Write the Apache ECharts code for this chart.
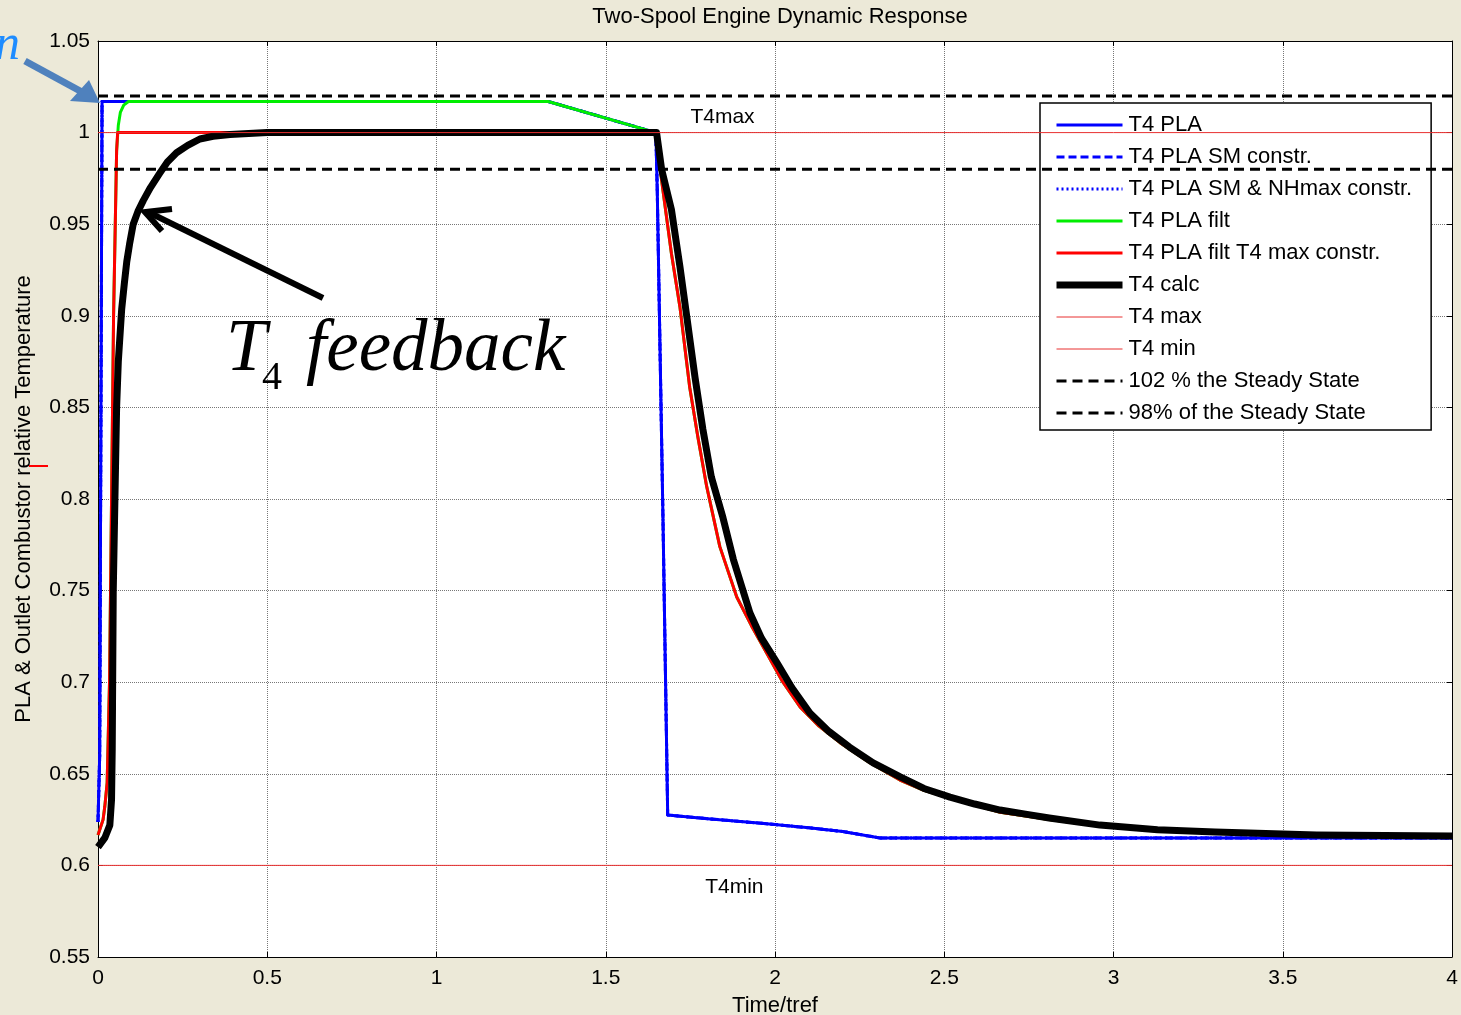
<!DOCTYPE html>
<html><head><meta charset="utf-8">
<script src="https://cdn.jsdelivr.net/npm/echarts/dist/echarts.min.js"></script>
<style>html,body{margin:0;padding:0;background:#ECE9D8;} #c{width:1461px;height:1015px;}</style>
</head><body><div id="c"></div>
<script>
// ---------- data ----------
const chartTitle = 'Two-Spool Engine Dynamic Response';
const xName = 'Time/tref';
const yName = 'PLA & Outlet Combustor relative Temperature';
const xTicks = [0, 0.5, 1, 1.5, 2, 2.5, 3, 3.5, 4];
const yTicks = [0.55, 0.6, 0.65, 0.7, 0.75, 0.8, 0.85, 0.9, 0.95, 1, 1.05];
const seriesNames = ['T4 PLA', 'T4 PLA SM constr.', 'T4 PLA SM & NHmax constr.', 'T4 PLA filt',
  'T4 PLA filt T4 max constr.', 'T4 calc', 'T4 max', 'T4 min',
  '102 % the Steady State', '98% of the Steady State'];

// T4 PLA (blue) – the constrained versions coincide with it
const blueT = [0, 0.005, 0.012, 1.33, 1.648, 1.652, 1.669, 1.683, 1.8, 1.96, 2.1, 2.2, 2.31, 4.0];
const blueV = [0.6237, 0.66, 1.017, 1.017, 1.0, 0.97, 0.79, 0.6275, 0.6255, 0.623, 0.6205, 0.6185, 0.615, 0.615];

// T4 PLA filt (green)
const greenT = [0, 0.015, 0.02, 0.027, 0.034, 0.04, 0.046, 0.052, 0.055, 0.06, 0.066, 0.076, 0.09, 1.33, 1.648,
  1.665, 1.694, 1.719, 1.748, 1.772, 1.798, 1.837, 1.887, 1.93, 1.975, 2.02, 2.074, 2.13, 2.192, 2.28, 2.369, 2.44, 2.517, 2.59, 2.665, 2.81, 2.96, 3.2, 3.5, 4.0];
const greenV = [0.6166, 0.625, 0.632, 0.645, 0.70, 0.80, 0.90, 0.96, 0.99, 1.004, 1.011, 1.015, 1.017, 1.017, 1.0,
  0.974, 0.934, 0.905, 0.861, 0.834, 0.807, 0.774, 0.7465, 0.731, 0.716, 0.701, 0.6865, 0.676, 0.667, 0.656, 0.6466, 0.641, 0.6368, 0.633, 0.629, 0.625, 0.6215, 0.619, 0.617, 0.616];

// T4 PLA filt T4 max constr. (red)
const redT = [0, 0.015, 0.02, 0.027, 0.034, 0.04, 0.046, 0.052, 0.055, 0.058, 1.648,
  1.665, 1.694, 1.719, 1.748, 1.772, 1.798, 1.837, 1.887, 1.93, 1.975, 2.02, 2.074, 2.13, 2.192, 2.28, 2.369, 2.44, 2.517, 2.59, 2.665, 2.81, 2.96, 3.2, 3.5, 4.0];
const redV = [0.6166, 0.625, 0.632, 0.645, 0.70, 0.80, 0.90, 0.96, 0.99, 1.0, 1.0,
  0.974, 0.934, 0.905, 0.861, 0.834, 0.807, 0.774, 0.7465, 0.731, 0.716, 0.701, 0.6865, 0.676, 0.667, 0.656, 0.6466, 0.641, 0.6368, 0.633, 0.629, 0.625, 0.6215, 0.619, 0.617, 0.616];

// T4 calc (black)
const calcT = [0, 0.02, 0.035, 0.040, 0.042, 0.045, 0.05, 0.055, 0.06, 0.07, 0.078, 0.085, 0.094, 0.104, 0.118, 0.134, 0.155,
  0.183, 0.205, 0.232, 0.265, 0.301, 0.34, 0.39, 0.5, 1.65,
  1.665, 1.694, 1.719, 1.739, 1.764, 1.787, 1.812, 1.846, 1.877, 1.926, 1.96, 2.006, 2.05, 2.103, 2.16, 2.22, 2.29, 2.37,
  2.44, 2.517, 2.59, 2.665, 2.74, 2.81, 2.96, 3.13, 3.3, 3.6, 4.0];
const calcV = [0.61, 0.615, 0.622, 0.636, 0.663, 0.749, 0.80, 0.85, 0.875, 0.9037, 0.918, 0.9296, 0.940, 0.95, 0.957, 0.963, 0.970,
  0.978, 0.984, 0.989, 0.993, 0.9965, 0.998, 0.999, 1.0, 1.0,
  0.98, 0.958, 0.927, 0.90, 0.866, 0.838, 0.812, 0.790, 0.767, 0.7378, 0.724, 0.7105, 0.697, 0.6832, 0.673, 0.6646, 0.656, 0.6483,
  0.642, 0.6373, 0.6335, 0.6302, 0.628, 0.6259, 0.622, 0.6195, 0.6182, 0.6166, 0.616];

// limits
const limitT = [0, 4];
const t4maxV = [1.0, 1.0];
const t4minV = [0.6, 0.6];
const ss102V = [1.02, 1.02];
const ss98V = [0.98, 0.98];

// ---------- chart ----------
const pairs = (t, v) => t.map((x, i) => [x, v[i]]);
const FONT = 'Liberation Sans, Arial, sans-serif';
const SERIF = 'Liberation Serif, Times New Roman, serif';
const fmt = v => String(+(+v).toFixed(2));

function lineSeries(name, t, v, color, width, type, z) {
  return {
    name, type: 'line', data: pairs(t, v), symbol: 'none', showSymbol: false,
    lineStyle: { color, width, type: type || 'solid', join: 'round' }, itemStyle: { color },
    z: z, animation: false, clip: true, emphasis: { disabled: true }
  };
}

const chart = echarts.init(document.getElementById('c'), null, { renderer: 'canvas' });
const gridTick = { show: true, inside: true, length: 5, lineStyle: { color: '#000', width: 1 } };

chart.setOption({
  backgroundColor: '#ECE9D8',
  animation: false,
  title: {
    text: chartTitle, left: 775, top: 1, textAlign: 'center',
    textStyle: { fontFamily: FONT, fontSize: 22, fontWeight: 'normal', color: '#000' }
  },
  grid: { left: 98, right: 9, top: 41, bottom: 58, backgroundColor: '#fff', show: true, borderWidth: 0,
    containLabel: false, outerBoundsMode: 'none' },
  legend: {
    orient: 'vertical', left: 1040, top: 103,
    backgroundColor: '#fff', borderColor: '#000', borderWidth: 1.5,
    padding: [11, 19, 6, 13],
    itemWidth: 66, itemHeight: 14, itemGap: 10,
    selectedMode: false,
    itemStyle: { opacity: 0 },
    lineStyle: { width: 'inherit' },
    textStyle: { fontFamily: FONT, fontSize: 22, color: '#000', lineHeight: 22, padding: [0, 0, 0, 1] },
    data: seriesNames
  },
  xAxis: [{
    type: 'value', min: xTicks[0], max: xTicks[xTicks.length - 1], interval: xTicks[1] - xTicks[0],
    name: xName, nameLocation: 'middle', nameGap: 38,
    nameTextStyle: { fontFamily: FONT, fontSize: 22, color: '#000' },
    axisLine: { show: true, onZero: false, lineStyle: { color: '#000', width: 1 } },
    axisTick: gridTick,
    axisLabel: { fontFamily: FONT, fontSize: 21, color: '#000', margin: 11, formatter: fmt },
    splitLine: { show: true, lineStyle: { color: '#777', width: 1, type: [1, 1] } }
  }, {
    type: 'value', position: 'top', min: xTicks[0], max: xTicks[xTicks.length - 1], interval: xTicks[1] - xTicks[0],
    axisLine: { show: true, onZero: false, lineStyle: { color: '#000', width: 1 } },
    axisTick: gridTick, axisLabel: { show: false }, splitLine: { show: false }
  }],
  yAxis: [{
    type: 'value', min: yTicks[0], max: yTicks[yTicks.length - 1], interval: 0.05,
    name: yName, nameLocation: 'middle', nameGap: 63, nameRotate: 90,
    nameTextStyle: { fontFamily: FONT, fontSize: 22, color: '#000' },
    axisLine: { show: true, onZero: false, lineStyle: { color: '#000', width: 1 } },
    axisTick: gridTick,
    axisLabel: { fontFamily: FONT, fontSize: 21, color: '#000', margin: 8, formatter: fmt, padding: [3, 0, 0, 0] },
    splitLine: { show: true, lineStyle: { color: '#777', width: 1, type: [1, 1] } }
  }, {
    type: 'value', position: 'right', min: yTicks[0], max: yTicks[yTicks.length - 1], interval: 0.05,
    axisLine: { show: true, onZero: false, lineStyle: { color: '#000', width: 1 } },
    axisTick: gridTick, axisLabel: { show: false }, splitLine: { show: false }
  }],
  series: [
    lineSeries(seriesNames[0], blueT, blueV, '#0000FF', 3, 'solid', 2),
    lineSeries(seriesNames[1], blueT, blueV, '#0000FF', 3, [8, 4], 3),
    lineSeries(seriesNames[2], blueT, blueV, '#0000FF', 3, [2, 3], 4),
    lineSeries(seriesNames[3], greenT, greenV, '#00EE00', 3, 'solid', 5),
    lineSeries(seriesNames[4], redT, redV, '#FF0000', 3, 'solid', 6),
    lineSeries(seriesNames[5], calcT, calcV, '#000000', 7, 'solid', 7),
    lineSeries(seriesNames[6], limitT, t4maxV, '#E83030', 1, 'solid', 8),
    lineSeries(seriesNames[7], limitT, t4minV, '#E83030', 1, 'solid', 8),
    lineSeries(seriesNames[8], limitT, ss102V, '#000000', 3, [10, 6], 9),
    lineSeries(seriesNames[9], limitT, ss98V, '#000000', 3, [10, 6], 9)
  ]
});

// ---------- annotations ----------
const P = (x, y) => chart.convertToPixel({ xAxisIndex: 0, yAxisIndex: 0 }, [x, y]);
const pMax = P(1.845, 1.0);
const pMin = P(1.88, 0.6);
chart.setOption({
  graphic: [
    { type: 'text', x: pMax[0], y: pMax[1] - 15, z: 50,
      style: { text: 'T4max', font: '21px ' + FONT, fill: '#000', align: 'center', verticalAlign: 'middle' } },
    { type: 'text', x: pMin[0], y: pMin[1] + 22, z: 50,
      style: { text: 'T4min', font: '21px ' + FONT, fill: '#000', align: 'center', verticalAlign: 'middle' } },
    // T4 feedback annotation
    { type: 'text', x: 226, y: 351, z: 50,
      style: { text: 'T', font: 'italic 73px ' + SERIF, fill: '#000', align: 'left', verticalAlign: 'middle' } },
    { type: 'text', x: 262, y: 378, z: 50,
      style: { text: '4', font: '40px ' + SERIF, fill: '#000', align: 'left', verticalAlign: 'middle' } },
    { type: 'text', x: 306, y: 351, z: 50,
      style: { text: 'feedback', font: 'italic 73px ' + SERIF, fill: '#000', align: 'left', verticalAlign: 'middle' } },
    { type: 'polyline', z: 50, shape: { points: [[323, 298], [148, 212]] },
      style: { stroke: '#000', lineWidth: 6, fill: null } },
    { type: 'polyline', z: 50, shape: { points: [[172, 209], [145, 212], [162, 231]] },
      style: { stroke: '#000', lineWidth: 6, fill: null, lineJoin: 'miter' } },
    // blue arrow at top-left
    { type: 'polyline', z: 50, shape: { points: [[25, 61], [82, 92]] },
      style: { stroke: '#4F81BD', lineWidth: 7, fill: null } },
    { type: 'polygon', z: 50, shape: { points: [[100, 103], [70, 101], [89, 80]] },
      style: { fill: '#4F81BD' } },
    { type: 'text', x: -5, y: 46, z: 50,
      style: { text: 'n', font: 'italic 50px ' + SERIF, fill: '#1E8CFF', align: 'left', verticalAlign: 'middle' } },
    // small red mark near y-axis label
    { type: 'line', z: 50, shape: { x1: 29, y1: 466, x2: 48, y2: 466 },
      style: { stroke: '#FF0000', lineWidth: 2 } }
  ]
});
</script>
</body></html>
